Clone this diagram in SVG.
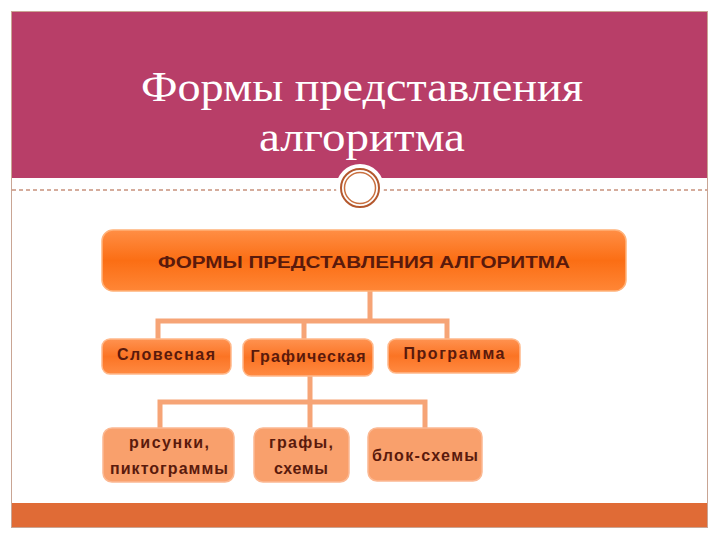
<svg xmlns="http://www.w3.org/2000/svg" width="720" height="540" viewBox="0 0 720 540">
<defs>
<linearGradient id="gTop" x1="0" y1="0" x2="0" y2="1">
<stop offset="0" stop-color="#ff8e45"/>
<stop offset="0.5" stop-color="#fb6e14"/>
<stop offset="1" stop-color="#ff8636"/>
</linearGradient>
<linearGradient id="gMid" x1="0" y1="0" x2="0" y2="1">
<stop offset="0" stop-color="#ff9250"/>
<stop offset="0.5" stop-color="#fb7424"/>
<stop offset="1" stop-color="#ff8a42"/>
</linearGradient>
<style>
.title{font-family:"Liberation Serif","DejaVu Serif",serif;font-size:42px;fill:#ffffff;text-anchor:middle}
.lbl{font-family:"Liberation Sans",Arial,sans-serif;font-weight:bold;fill:#5a1a0c;text-anchor:middle;font-size:16px}
.top{fill:url(#gTop);stroke:#ffb27a;stroke-width:1.5}
.mid{fill:url(#gMid);stroke:#ffb88a;stroke-width:1.5}
.low{fill:#f9a06c;stroke:#fbb892;stroke-width:1.5}
.conn{fill:none;stroke:#f6a476;stroke-width:5}
</style>
</defs>
<rect x="0" y="0" width="720" height="540" fill="#ffffff"/>
<rect x="11.5" y="11.5" width="696" height="516" fill="#ffffff" stroke="#c9a594" stroke-width="1"/>
<rect x="12" y="12" width="695" height="166" fill="#b83e68"/>
<rect x="12" y="503" width="695" height="24" fill="#e06b36"/>
<line x1="12" y1="190" x2="707" y2="190" stroke="#c7917c" stroke-width="1.5" stroke-dasharray="4,3"/>
<circle cx="360" cy="188" r="24" fill="#ffffff"/>
<circle cx="360" cy="188" r="19" fill="none" stroke="#b4582e" stroke-width="2"/>
<circle cx="360" cy="188" r="15.5" fill="none" stroke="#c9703f" stroke-width="1.5"/>
<text class="title" x="362" y="101" textLength="442" lengthAdjust="spacingAndGlyphs">Формы представления</text>
<text class="title" x="362" y="151" textLength="206" lengthAdjust="spacingAndGlyphs">алгоритма</text>
<g id="connectors">
<path class="conn" d="M370 290 V321 M158 339 V321 H447 V339 M304 321 V339"/>
<path class="conn" d="M310 376 V402 M160 428 V402 H425 V428 M310 402 V428"/>
</g>
<g id="n-root">
<rect class="top" x="102" y="230" width="524" height="61" rx="11"/>
<text class="lbl" x="364" y="268" font-size="16.5" textLength="412" lengthAdjust="spacingAndGlyphs">ФОРМЫ ПРЕДСТАВЛЕНИЯ АЛГОРИТМА</text>
</g>
<g id="n-slov">
<rect class="mid" x="102" y="339" width="129" height="35" rx="8"/>
<text class="lbl" x="166" y="360" textLength="98">Словесная</text>
</g>
<g id="n-graf">
<rect class="mid" x="243" y="339" width="130" height="37" rx="8"/>
<text class="lbl" x="308" y="362" textLength="115">Графическая</text>
</g>
<g id="n-prog">
<rect class="mid" x="388" y="339" width="132" height="34" rx="8"/>
<text class="lbl" x="454" y="359" textLength="101">Программа</text>
</g>
<g id="n-ris">
<rect class="low" x="103" y="428" width="131" height="54" rx="9"/>
<text class="lbl" x="169" y="448" textLength="80">рисунки,</text>
<text class="lbl" x="169" y="474" textLength="118">пиктограммы</text>
</g>
<g id="n-grafy">
<rect class="low" x="254" y="428" width="95" height="54" rx="9"/>
<text class="lbl" x="301" y="448" textLength="64">графы,</text>
<text class="lbl" x="301" y="474" textLength="54">схемы</text>
</g>
<g id="n-blok">
<rect class="low" x="368" y="428" width="114" height="53" rx="9"/>
<text class="lbl" x="425" y="461" textLength="106">блок-схемы</text>
</g>
</svg>
